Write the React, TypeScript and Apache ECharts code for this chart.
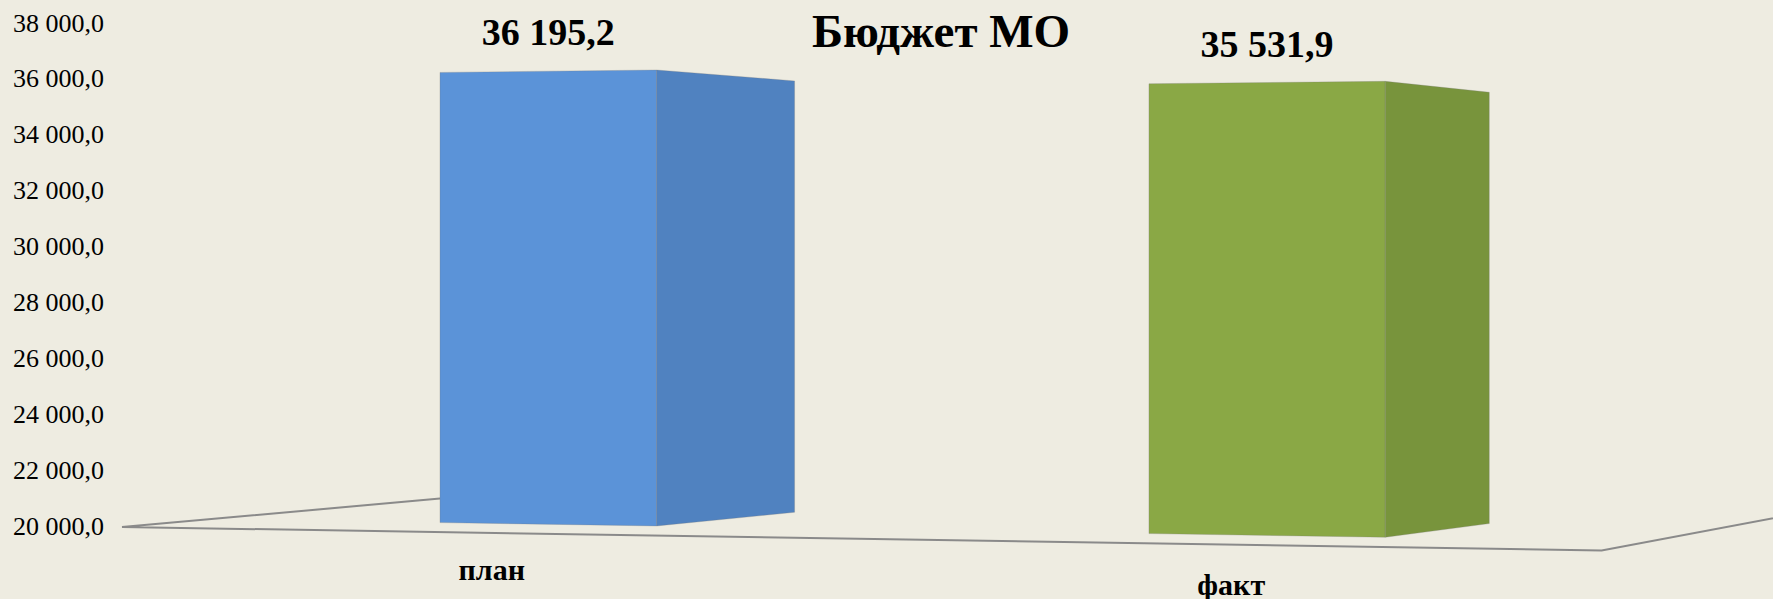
import React, { useEffect, useRef } from "react";
import * as echarts from "echarts";

// ---- data ----
const categories = ["план", "факт"];
const values = [36195.2, 35531.9];
const yMin = 20000;
const yMax = 38000;
const yInterval = 2000;
const chartTitle = "Бюджет МО";

// ---- styles ----
const frontColors = ["#5B93D8", "#8AA845"];
const sideColors = ["#5082C0", "#78943C"];
const bg = "#EEECE1";
const FONT = "'Liberation Serif', 'Times New Roman', serif";

const fmt = (v: number) => {
  const [i, d] = v.toFixed(1).split(".");
  return i.replace(/\B(?=(\d{3})+(?!\d))/g, " ") + "," + d;
};

export default function App() {
  const ref = useRef<HTMLDivElement>(null);
  useEffect(() => {
    if (!ref.current) return;
    const chart = echarts.init(ref.current, undefined, { renderer: "svg" });
    const option: any = {
      animation: false,
      backgroundColor: bg,
      title: {
        text: chartTitle,
        left: 807,
        top: 2,
        textStyle: { fontFamily: FONT, fontSize: 47, fontWeight: "bold", color: "#000" },
      },
      grid: { left: 122, right: 172, top: 23, bottom: 72 },
      xAxis: {
        type: "category",
        data: categories,
        axisLine: { show: false },
        axisTick: { show: false },
        splitLine: { show: false },
        axisLabel: {
          margin: 28,
          fontFamily: FONT,
          fontSize: 30,
          fontWeight: "bold",
          color: "#000",
          formatter: (v: string, idx: number) => (idx === 0 ? "{a|" + v + "}" : "{b|" + v + "}"),
          rich: {
            a: { lineHeight: 30, fontFamily: FONT, fontSize: 30, fontWeight: "bold", color: "#000" },
            b: { lineHeight: 60, fontFamily: FONT, fontSize: 30, fontWeight: "bold", color: "#000" },
          },
        },
      },
      yAxis: {
        type: "value",
        min: yMin,
        max: yMax,
        interval: yInterval,
        axisLine: { show: false },
        axisTick: { show: false },
        splitLine: { show: false },
        axisLabel: {
          margin: 18,
          fontFamily: FONT,
          fontSize: 26,
          color: "#000",
          formatter: (v: number) => fmt(v),
        },
      },
      graphic: [
        {
          type: "polyline",
          z: 0,
          shape: { points: [[440, 498.6], [122, 527], [1601.6, 550.5], [1790, 515]] },
          style: { stroke: "#8A8A8A", lineWidth: 2, fill: null },
        },
      ],
      series: [
        {
          type: "custom",
          z: 5,
          clip: false,
          data: categories.map((_, i) => [i, values[i]]),
          encode: { x: 0, y: 1 },
          renderItem: (params: any, api: any) => {
            const i = api.value(0) as number;
            const v = api.value(1) as number;
            const top0 = api.coord([i, v]);
            const base0 = api.coord([i, yMin]);
            const c = top0[0];
            const h = base0[1] - top0[1];
            const gl = params.coordSys.x;
            const yB = (x: number) => base0[1] - 8.33 + 0.0155 * (x - gl);
            const f = (x: number) => 0.976 + 5.89e-5 * (x - gl);
            const yT = (x: number) => yB(x) - h * f(x);
            const xL = c - 36.48 - 0.0413 * (c - gl);
            const xR = c + 170.27 - 0.01467 * (c - gl);
            const dx = 162.9 - 0.0466 * (xR - gl);
            const xB = xR + dx;
            const yBB = yB(xR) - 13.7;
            const yBT = yBB - h * f(xR) * 0.946;
            const xc = (xL + xR) / 2;
            return {
              type: "group",
              children: [
                {
                  type: "polygon",
                  shape: { points: [[xL, yT(xL)], [xR, yT(xR)], [xR, yB(xR)], [xL, yB(xL)]] },
                  style: { fill: frontColors[i], stroke: "rgba(120,120,120,0.35)", lineWidth: 0.8 },
                },
                {
                  type: "polygon",
                  shape: { points: [[xR, yT(xR)], [xB, yBT], [xB, yBB], [xR, yB(xR)]] },
                  style: { fill: sideColors[i], stroke: "rgba(120,120,120,0.35)", lineWidth: 0.8 },
                },
                {
                  type: "text",
                  x: xc,
                  y: yT(xc) - 39,
                  style: {
                    text: fmt(v),
                    fontFamily: FONT,
                    fontSize: 38,
                    fontWeight: "bold",
                    fill: "#000",
                    align: "center",
                    verticalAlign: "middle",
                  },
                },
              ],
            };
          },
        },
      ],
    };
    chart.setOption(option);
    return () => chart.dispose();
  }, []);
  return (
    <div
      ref={ref}
      style={{ position: "fixed", left: 0, top: 0, width: 1773, height: 599, background: bg }}
    />
  );
}
